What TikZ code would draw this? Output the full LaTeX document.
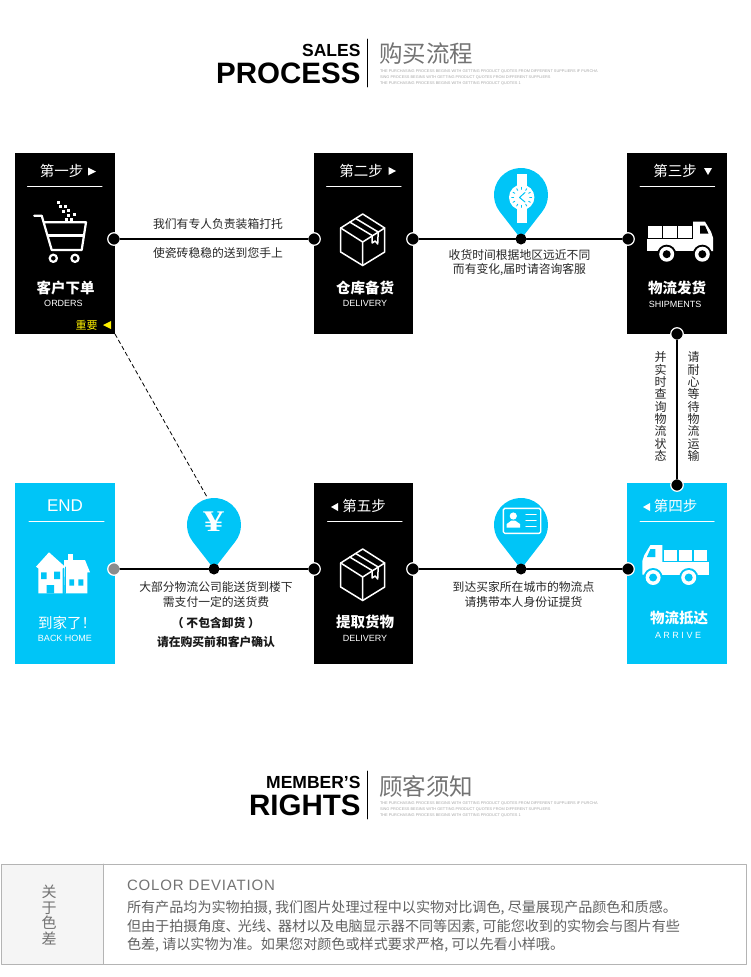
\documentclass[tikz,border=0pt]{standalone}
\usepackage{fontspec}
\setmainfont{Liberation Sans}
\newfontfamily\cjk{Noto Sans CJK SC}
\newfontfamily\serifyen{Liberation Serif}
\newcommand{\fs}[1]{\fontsize{#1}{#1}\selectfont}
\definecolor{cyanblue}{HTML}{00C5F7}
\definecolor{tablegray}{HTML}{B4B4B4}
\begin{document}
\begin{tikzpicture}[x=1pt,y=-1pt,line join=round,line cap=round,
	every node/.style={inner sep=0pt,outer sep=0pt},
	stepbox/.style={anchor=north west,minimum width=100pt,minimum height=181pt,fill=black},
	endbox/.style={stepbox,fill=cyanblue},
	dot/.style={circle,minimum size=12.5pt,fill=black,draw=white,line width=1.2pt},
	pindot/.style={circle,minimum size=11pt,fill=black},
	link/.style={line width=2pt,black},
	steptxt/.style={font=\cjk\fs{14.5},white},
	boxtitle/.style={font=\cjk\bfseries\fs{14.5},white},
	boxen/.style={font=\fs{9},white},
	captxt/.style={font=\cjk\fs{11.8},black!85},
	capbold/.style={font=\cjk\bfseries\fs{11.8},black!90},
	sidetxt/.style={font=\cjk\fontsize{12}{12.35}\selectfont,align=center,black!85},
	headsmall/.style={font=\bfseries\fs{17.5},anchor=east},
	headbig/.style={font=\bfseries\fs{29.5},anchor=east},
	headcn/.style={font=\cjk\fs{23.5},anchor=west,black!55},
	finetxt/.style={font=\fs{3.88},anchor=west,black!35},
	bodytxt/.style={font=\cjk\fs{14.1},anchor=west,black!62},
	pics/pin/.style={code={
		\fill[cyanblue] (0,0) -- (-21.3,-27.4) arc[start angle=142,end angle=398,radius=27] -- cycle;}},
	pics/cardbox/.style={code={
		\draw[white,line width=1.5pt] (0,-26) -- (-22,-12) -- (-22,12) -- (0,25.5) -- (22,12) -- (22,-12) -- cycle;
		\draw[white,line width=1.5pt] (-22,-12) -- (0,2) -- (22,-12) (0,2) -- (0,25.5);
		\draw[white,line width=1.5pt] (-13,-18) -- (9.5,-4.5) (-7,-21.5) -- (15.5,-8) (9.5,-4.5) -- (9.5,3) -- (12.5,1) -- (15,4) -- (15.5,-8);}},
	pics/truck/.style={code={
		\fill[white] (-33.3,17) rectangle (13.3,29.5);
		\foreach \a in {-31.7,-16.7,-1.7} \fill[white] (\a,4.5) rectangle ++(13.4,11.5);
		\fill[white] (13,0) -- (25,0) -- (31,10) -- (33,16) -- (33,29.5) -- (13,29.5) -- cycle;
		\fill[#1] (20,4) -- (25,4) -- (28.5,12) -- (20,12) -- cycle;
		\foreach \a in {-13.3,22.3} {\fill[#1] (\a,32.5) circle (9.5);
			\fill[white] (\a,32.5) circle (7.5); \fill[#1] (\a,32.5) circle (4);}}}]
	\useasboundingbox (0,0) rectangle (750,977);

	\node[headsmall] (salesword) at (360.5,50) {SALES};
	\node[headbig] (processword) at (360.5,73) {PROCESS};
	\draw[black,line width=0.9pt] (367,39) -- (367,87);
	\node[headcn] (buytitle) at (379,54) {购买流程};
	\node[finetxt] (buyfineone) at (380,72) {THE PURCHASING PROCESS BEGINS WITH GETTING PRODUCT QUOTES FROM DIFFERENT SUPPLIERS IF PURCHA};
	\node[finetxt] (buyfinetwo) at (380,78) {SING PROCESS BEGINS WITH GETTING PRODUCT QUOTES FROM DIFFERENT SUPPLIERS};
	\node[finetxt] (buyfinethree) at (380,84) {THE PURCHASING PROCESS BEGINS WITH GETTING PRODUCT QUOTES 1};

	\node[stepbox] (stepone) at (15,153) {};
	\node[stepbox,minimum width=99pt] (steptwo) at (314,153) {};
	\node[stepbox] (stepthree) at (627,153) {};
	\node[endbox] (stepfour) at (627,483) {};
	\node[stepbox,minimum width=99pt] (stepfive) at (314,483) {};
	\node[endbox] (stepend) at (15,483) {};

	\node[steptxt] (onehead) at (61.5,171) {第一步};
	\node[steptxt] (twohead) at (361,171) {第二步};
	\node[steptxt] (threehead) at (675,171) {第三步};
	\node[steptxt] (fourhead) at (675.5,506) {第四步};
	\node[steptxt] (fivehead) at (364,506) {第五步};
	\node[font=\fs{17},white] (endhead) at (65,505.5) {END};
	\fill[white] (88,167.5) -- (96,171.5) -- (88,175.5) -- cycle;
	\fill[white] (388.5,167) -- (396,171) -- (388.5,175) -- cycle;
	\fill[white] (704,168) -- (712,168) -- (708,175) -- cycle;
	\fill[white] (338,503) -- (331,507) -- (338,511) -- cycle;
	\fill[white] (650,503) -- (643,507) -- (650,511) -- cycle;
	\draw[white,line width=1pt] (27.5,186) -- (102,186);
	\draw[white,line width=1pt] (326.7,186) -- (401,186);
	\draw[white,line width=1pt] (640,186) -- (714.5,186);
	\draw[white,line width=1pt] (29,521) -- (104,521);
	\draw[white,line width=1pt] (327.7,521) -- (402,521);
	\draw[white,line width=1pt] (640,521) -- (714,521);

	\node[boxtitle] (onecn) at (65.5,288) {客户下单};
	\node[boxen] (oneen) at (63.5,303) {ORDERS};
	\node[boxtitle] (twocn) at (365,288) {仓库备货};
	\node[boxen] (twoen) at (365,303) {DELIVERY};
	\node[boxtitle] (threecn) at (677,288) {物流发货};
	\node[boxen] (threeen) at (675,304) {SHIPMENTS};
	\node[boxtitle] (fourcn) at (679,618) {物流抵达};
	\node[boxen] (fouren) at (678,635) {A R R I V E};
	\node[boxtitle] (fivecn) at (365,622) {提取货物};
	\node[boxen] (fiveen) at (365,638) {DELIVERY};
	\node[boxtitle,font=\cjk\fs{14.5}] (endcn) at (67,623) {到家了！};
	\node[boxen] (enden) at (65,638) {BACK HOME};
	\node[font=\cjk\fs{11},yellow] (important) at (86.5,325) {重要};
	\fill[yellow] (111,321) -- (103,325) -- (111,329) -- cycle;

	\draw[white,line width=2.2pt] (34.3,215.7) -- (41.7,215.7) -- (51.7,250) -- (81.7,250) -- (86,222.3) -- (44,222.3);
	\draw[white,line width=2.2pt] (48,235.5) -- (83.5,235.5);
	\foreach \a/\b in {53.3/258.3,75/258.3} \draw[white,line width=2.2pt] (\a,\b) circle (3.6);
	\foreach \a/\b in {58.3/202.3,60/206.7,65.7/206.7,68.3/210.7,63.3/211.7,74/214,68.3/215.7,71.7/219,66.7/219} \fill[white] (\a-1.5,\b-1.5) rectangle ++(3,3);
	\pic at (362.7,240) {cardbox};
	\pic at (362.7,575) {cardbox};
	\pic at (680,221.7) {truck=black};
	\pic[xscale=-1] at (675.4,545) {truck=cyanblue};
	\fill[white] (36,566.7) -- (49,552.3) -- (65,566.7) -- (62.7,568.3) -- (62.7,593.3) -- (38.3,593.3) -- (38.3,568.3) -- cycle;
	\fill[white] (67.7,554.3) rectangle (72.7,560);
	\fill[white] (64,560) -- (85,560) -- (90,572.3) -- (87.3,572.3) -- (87.3,593.3) -- (65,593.3) -- cycle;
	\draw[cyanblue,line width=0.8pt] (65,567) -- (65,593.3);
	\fill[cyanblue] (41,572.3) rectangle (46.7,579) (54,571.7) rectangle (60,579) (46.7,585) rectangle (54,593.3);
	\fill[cyanblue] (69.3,579.3) rectangle (74,585.7) (78.3,579.3) rectangle (83.3,585.7);

	\pic at (521,239) {pin};
	\fill[white] (516.7,174.3) rectangle (526.7,223);
	\fill[white] (521.7,197.3) circle (12.7);
	\foreach \t in {0,30,...,330} \draw[cyanblue,line width=0.9pt] (521.7,197.3) ++(\t:8) -- ++(\t:2);
	\draw[cyanblue,line width=1pt] (525,192.5) -- (519.5,197.5) -- (525,202);

	\pic at (214,569) {pin};
	\node[font=\serifyen\bfseries\fs{30},white] (yensign) at (213.5,522) {\scalebox{1.4}[1]{¥}};
	\pic at (521,569) {pin};
	\draw[white,line width=1.4pt,rounded corners=1.5pt] (503.3,508.3) rectangle (540.7,533.3);
	\fill[white] (513.3,516) circle (3.6);
	\fill[white] (506.7,527.7) -- (506.7,524) -- (511.5,520.5) -- (515,520.5) -- (520,524) -- (520,527.7) -- cycle;
	\draw[white,line width=1.5pt] (526,514.3) -- (536,514.3) (526,520.7) -- (536,520.7) (526,526.7) -- (536,526.7);

	\node[dot] (toponeright) at (114,239) {};
	\node[dot] (toptwoleft) at (314,239) {};
	\node[dot] (toptworight) at (413,239) {};
	\node[dot] (topthreeleft) at (628,239) {};
	\node[pindot] (watchdot) at (521,239) {};
	\node[dot] (threedown) at (677,334) {};
	\node[dot] (fourup) at (677,485) {};
	\node[dot] (fourleft) at (628,569) {};
	\node[dot] (fiveright) at (413,569) {};
	\node[dot] (fiveleft) at (314,569) {};
	\node[dot,fill=black!45] (endright) at (114,569) {};
	\node[pindot] (carddot) at (521,569) {};
	\node[pindot] (yendot) at (214,569) {};
	\coordinate (yentop) at (207,497);
	\draw[link] (toponeright) -- (toptwoleft);
	\draw[link] (toptworight) -- (watchdot);
	\draw[link] (watchdot) -- (topthreeleft);
	\draw[link] (threedown) -- (fourup);
	\draw[link] (fourleft) -- (carddot);
	\draw[link] (carddot) -- (fiveright);
	\draw[link] (fiveleft) -- (yendot);
	\draw[link] (yendot) -- (endright);
	\draw[black,line width=0.8pt,dash pattern=on 4pt off 3pt] (stepone.south east) -- (yentop);

	\node[captxt] (packone) at (218,224) {我们有专人负责装箱打托};
	\node[captxt] (packtwo) at (218,253) {使瓷砖稳稳的送到您手上};
	\node[captxt] (timeone) at (519.5,255) {收货时间根据地区远近不同};
	\node[captxt] (timetwo) at (519.5,270) {而有变化,届时请咨询客服};
	\node[sidetxt] (checkside) at (660.5,406.5) {并\\实\\时\\查\\询\\物\\流\\状\\态};
	\node[sidetxt] (waitside) at (693.5,406.5) {请\\耐\\心\\等\\待\\物\\流\\运\\输};
	\node[captxt] (cardone) at (523.5,587) {到达买家所在城市的物流点};
	\node[captxt] (cardtwo) at (523.5,602) {请携带本人身份证提货};
	\node[captxt] (feeone) at (216,587) {大部分物流公司能送货到楼下};
	\node[captxt] (feetwo) at (216,602) {需支付一定的送货费};
	\node[capbold] (feethree) at (216,623) {（ 不包含卸货 ）};
	\node[capbold] (feefour) at (216,642) {请在购买前和客户确认};

	\node[headsmall] (memberword) at (360.5,782) {MEMBER'S};
	\node[headbig] (rightsword) at (360.5,805) {RIGHTS};
	\draw[black,line width=0.9pt] (367,771) -- (367,819);
	\node[headcn] (ruletitle) at (379,786) {顾客须知};
	\node[finetxt] (rulefineone) at (380,804) {THE PURCHASING PROCESS BEGINS WITH GETTING PRODUCT QUOTES FROM DIFFERENT SUPPLIERS IF PURCHA};
	\node[finetxt] (rulefinetwo) at (380,810) {SING PROCESS BEGINS WITH GETTING PRODUCT QUOTES FROM DIFFERENT SUPPLIERS};
	\node[finetxt] (rulefinethree) at (380,816) {THE PURCHASING PROCESS BEGINS WITH GETTING PRODUCT QUOTES 1};

	\fill[black!4] (1,864) rectangle (103,964);
	\draw[tablegray,line width=0.9pt] (1,864) rectangle (746,964);
	\draw[tablegray,line width=0.9pt] (103,864) -- (103,964);
	\node[font=\cjk\fontsize{15}{15.5}\selectfont,align=center,black!55] (colorside) at (49,915) {关\\于\\色\\差};
	\node[font=\fs{15},anchor=west,black!55] (colorword) at (127,885) {\addfontfeature{LetterSpace=5.5}COLOR DEVIATION};
	\node[bodytxt] (colorone) at (127,908) {所有产品均为实物拍摄, 我们图片处理过程中以实物对比调色, 尽量展现产品颜色和质感。};
	\node[bodytxt] (colortwo) at (127,926.5) {但由于拍摄角度、\hspace{-2pt}光线、\hspace{-2pt}器材以及电脑显示器不同等因素, 可能您收到的实物会与图片有些};
	\node[bodytxt] (colorthree) at (127,945) {色差, 请以实物为准。如果您对颜色或样式要求严格, 可以先看小样哦。};
\end{tikzpicture}
\end{document}
